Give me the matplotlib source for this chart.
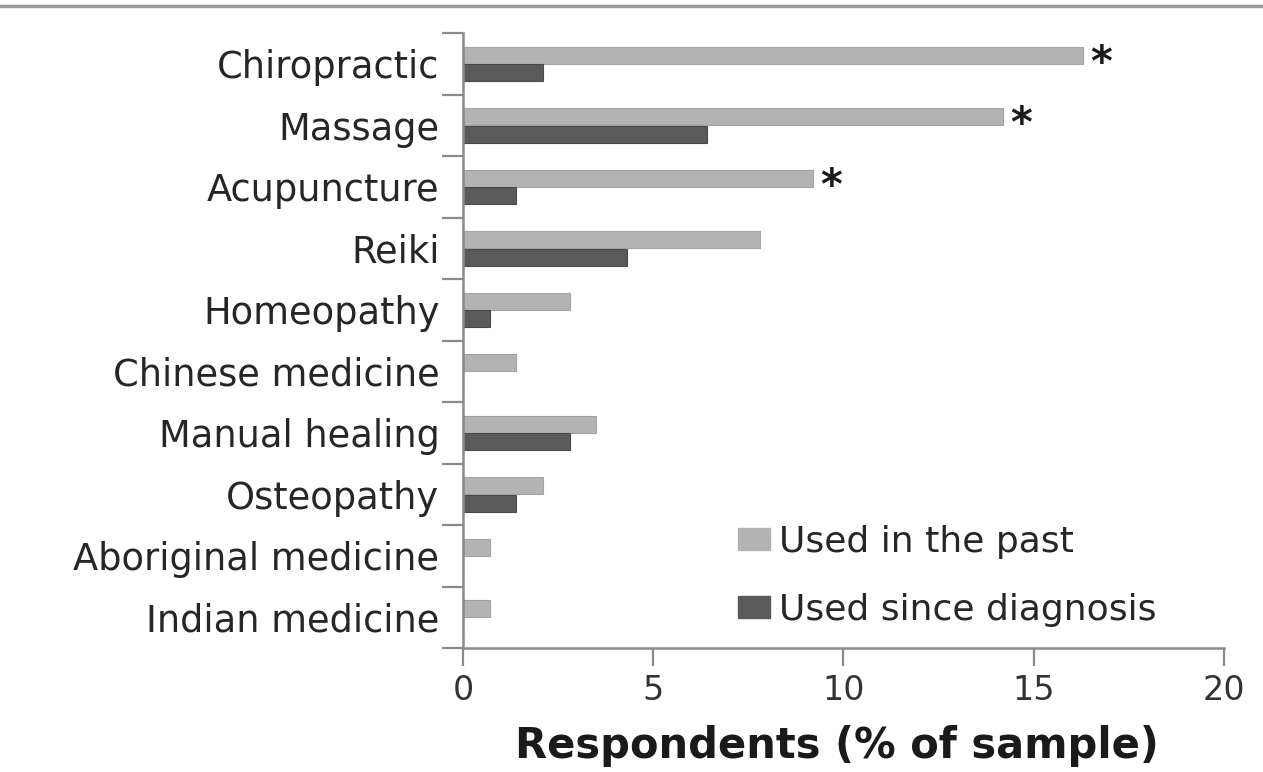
import matplotlib
matplotlib.use("Agg")
import matplotlib.pyplot as plt
from matplotlib.lines import Line2D
from matplotlib.patches import Patch
import numpy as np

plt.rcParams['font.family'] = ['DejaVu Sans']

categories = ["Chiropractic", "Massage", "Acupuncture", "Reiki", "Homeopathy",
              "Chinese medicine", "Manual healing", "Osteopathy",
              "Aboriginal medicine", "Indian medicine"]
used_past = [16.3, 14.2, 9.2, 7.8, 2.8, 1.4, 3.5, 2.1, 0.7, 0.7]
used_since = [2.1, 6.4, 1.4, 4.3, 0.7, 0.0, 2.8, 1.4, 0.0, 0.0]
significant = [True, True, True, False, False, False, False, False, False, False]
xticks = [0, 5, 10, 15, 20]
series_labels = ["Used in the past", "Used since diagnosis"]
xlabel = "Respondents (% of sample)"

c_past = "#b3b3b3"
c_since = "#5a5a5a"
axis_col = "#8a8a8a"
text_col = "#262626"

fig = plt.figure(figsize=(12.63, 7.72), dpi=100)
ax = fig.add_axes([463/1263, 1 - 648/772, (1224-463)/1263, (648-33)/772])

y = np.arange(len(categories))
h = 0.28
ax.barh(y - 0.14, used_past, height=h, color=c_past, edgecolor="#a3a3a3", linewidth=0.8)
ax.barh(y + 0.145, used_since, height=h, color=c_since, edgecolor="#4a4a4a", linewidth=0.8)

for yi, v, s in zip(y, used_past, significant):
    if s:
        ax.annotate("*", xy=(v, yi - 0.14), xytext=(5, -15), textcoords="offset points",
                    ha="left", va="baseline", fontsize=30, color="#1a1a1a",
                    fontweight="bold")

ax.set_xlim(0, 20)
ax.set_ylim(len(categories) - 0.5, -0.5)

ax.set_xticks(xticks)
ax.set_xticklabels([str(t) for t in xticks], fontsize=24, color="#333333")
ax.tick_params(axis="x", direction="out", length=13, width=1.6, color=axis_col, pad=6)

ax.set_yticks(np.arange(len(categories) + 1) - 0.5)
ax.set_yticklabels([])
ax.tick_params(axis="y", which="major", direction="out", length=15, width=1.6, color=axis_col)
ax.set_yticks(y, minor=True)
ax.set_yticklabels(categories, minor=True, fontsize=26.5, color=text_col)
ax.tick_params(axis="y", which="minor", length=0, pad=17)

for side in ["top", "right"]:
    ax.spines[side].set_visible(False)
for side in ["left", "bottom"]:
    ax.spines[side].set_color(axis_col)
    ax.spines[side].set_linewidth(1.8)

ax.set_xlabel(xlabel, fontsize=30, fontweight="bold", color="#1a1a1a")
ax.xaxis.set_label_coords((837 - 463) / 761, -0.126)

handles = [Patch(facecolor=c_past, edgecolor=c_past), Patch(facecolor=c_since, edgecolor=c_since)]
leg = fig.legend(handles, series_labels, loc="upper left",
                 bbox_to_anchor=(738/1263, 1 - 525/772),
                 frameon=False, fontsize=26, handlelength=0.89, handleheight=0.58,
                 handletextpad=0.25, labelspacing=0.93, borderpad=0, borderaxespad=0)
for t in leg.get_texts():
    t.set_color(text_col)

fig.add_artist(Line2D([0, 1], [1 - 6/772, 1 - 6/772], color="#9a9a9a", linewidth=2.5,
                      transform=fig.transFigure))

fig.savefig("out.png", dpi=100)
